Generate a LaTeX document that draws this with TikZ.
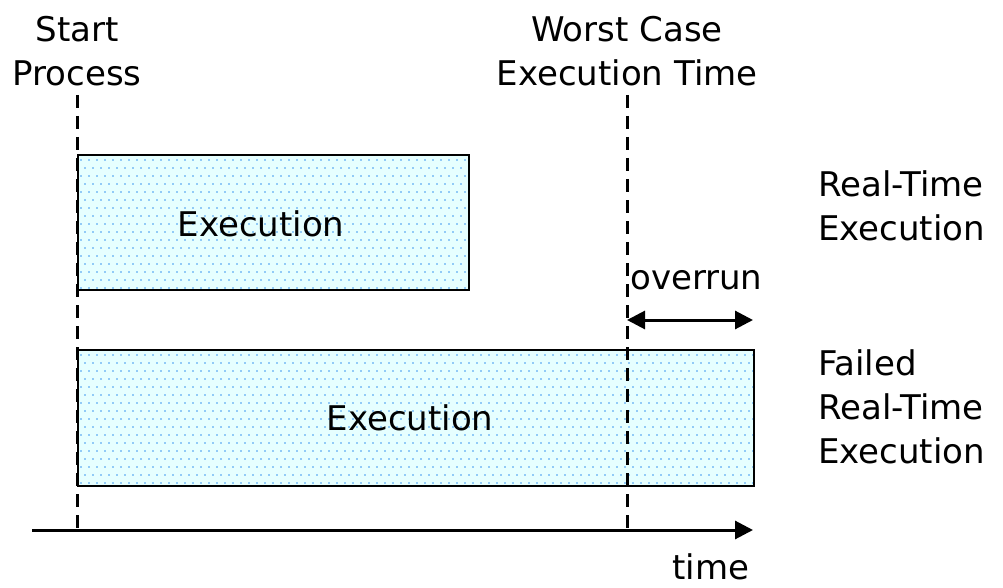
\documentclass[tikz,border=0pt]{standalone}
\usepackage{fontspec}
\setmainfont{DejaVu Sans}
\usetikzlibrary{arrows.meta}
\definecolor{boxfill}{HTML}{E6FFFF}
\definecolor{dotblue}{HTML}{3C96F0}
\tikzset{
  label/.style={font=\fontsize{34}{44}\selectfont, inner sep=0pt},
  marker/.style={line width=3pt, dash pattern=on 13pt off 8pt},
  axisline/.style={line width=3pt},
  execbox/.style={draw, line width=2pt},
  headtip/.tip={Triangle[length=18pt,width=18pt]},
}
\begin{document}
\begin{tikzpicture}[x=1pt,y=-1pt]
\useasboundingbox (0,0) rectangle (1003,588);

% execution boxes with dotted fill
\foreach \xa/\ya/\xb/\yb in {77/154/468/289, 77/349/753/485}{
  \fill[boxfill] (\xa,\ya) rectangle (\xb,\yb);
  \begin{scope}
    \clip (\xa,\ya) rectangle (\xb,\yb);
    \foreach \i in {0,...,85}{
      \foreach \j in {0,...,16}{
        \pgfmathsetmacro{\px}{\xa+4+\i*8+mod(\j,2)*4}
        \pgfmathsetmacro{\py}{\ya+6+\j*8}
        \fill[dotblue] (\px,\py) circle (0.9pt);
      }
    }
  \end{scope}
}
\node[execbox, minimum width=391pt, minimum height=135pt, anchor=north west] (ok) at (77,154) {};
\node[execbox, minimum width=676pt, minimum height=136pt, anchor=north west] (fail) at (77,349) {};
\node[label] (okexec) at (261,224) {Execution};
\node[label] (failexec) at (410,418) {Execution};

% time axis
\coordinate (axs) at (32,530);
\coordinate (axe) at (753,530);
\draw[axisline, -headtip] (axs) -- (axe);
\node[label] (time) at (711,567) {time};

% start and worst case markers
\coordinate (st) at (77,95);
\coordinate (sb) at (77,530);
\coordinate (wt) at (627,95);
\coordinate (wb) at (627,530);
\draw[marker] (st) -- (sb);
\draw[marker] (wt) -- (wb);

\node[label, align=center] (start) at (77,51) {Start\\Process};
\node[label, align=center] (wcet) at (627,51) {Worst Case\\Execution Time};

% overrun
\coordinate (os) at (627,320);
\coordinate (oe) at (753,320);
\draw[line width=3pt, headtip-headtip] (os) -- (oe);
\node[label, anchor=west] (over) at (630,280) {overrun};

% right-hand labels
\node[label, align=left, anchor=west] (rt) at (818,206) {Real-Time\\Execution};
\node[label, align=left, anchor=west] (frt) at (818,407) {Failed\\Real-Time\\Execution};
\end{tikzpicture}
\end{document}
